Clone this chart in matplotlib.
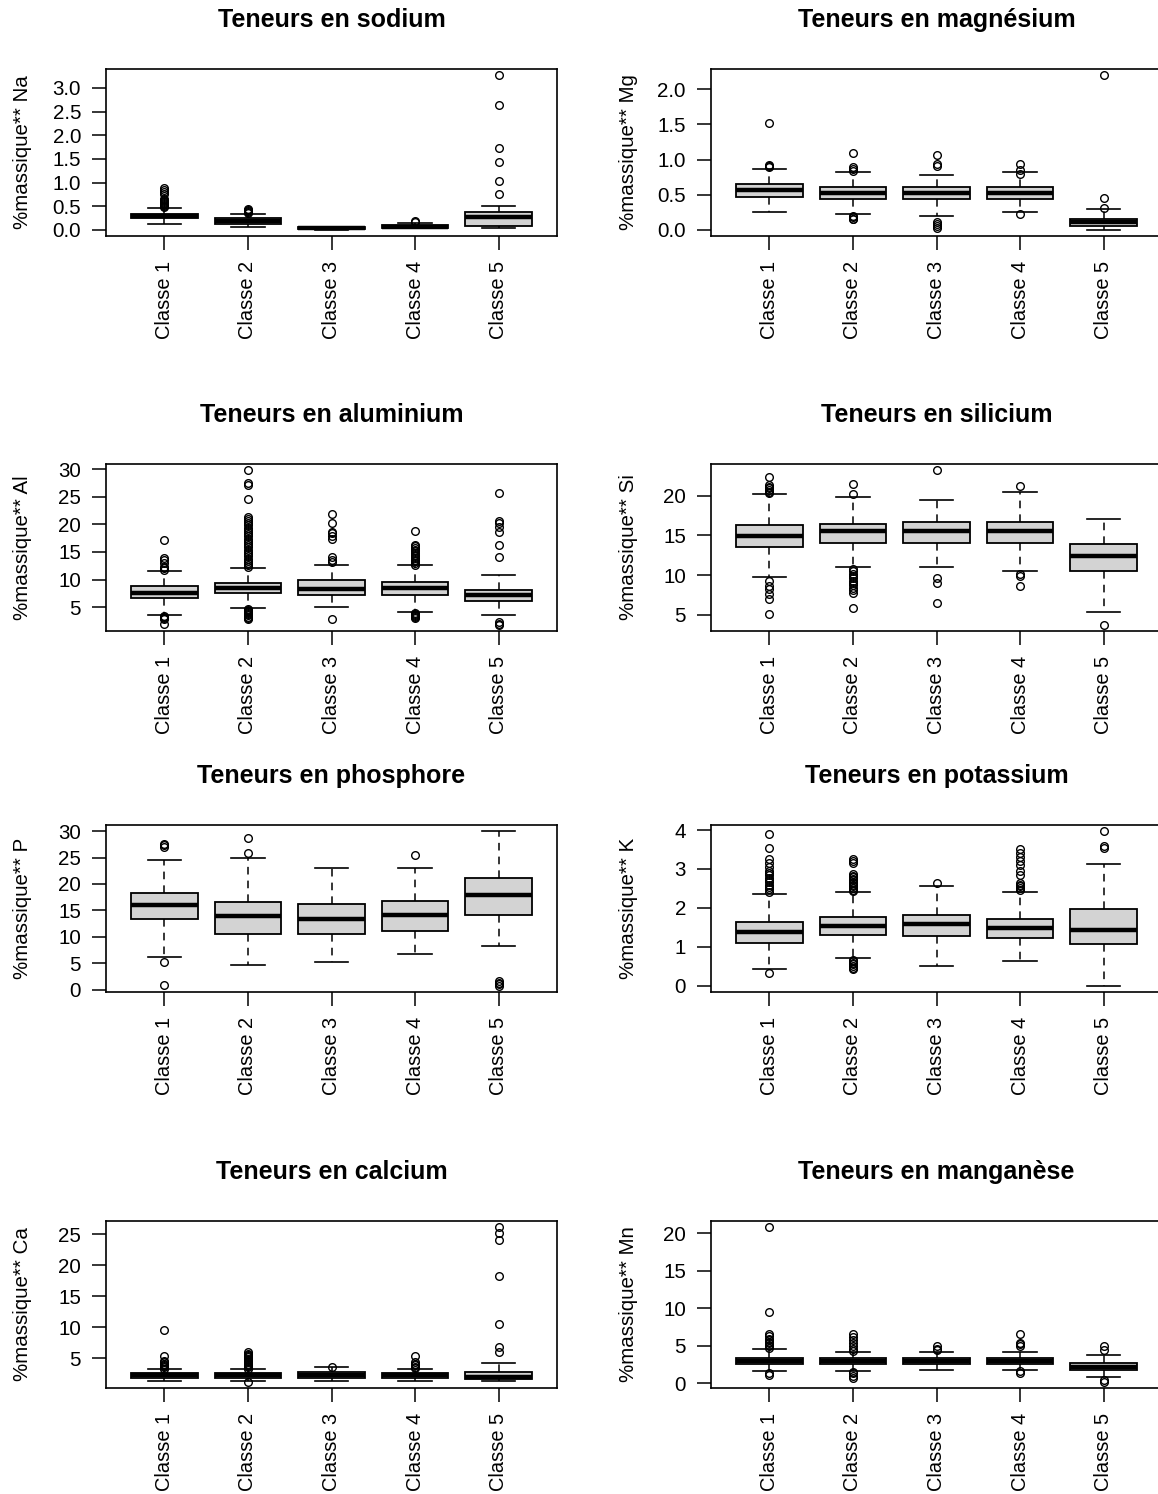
import numpy as np
import matplotlib
matplotlib.use('Agg')
import matplotlib.pyplot as plt

plt.rcParams['font.family'] = ['Liberation Sans', 'DejaVu Sans']

# Class names on the x axis
classes = ['Classe 1', 'Classe 2', 'Classe 3', 'Classe 4', 'Classe 5']

# Box stats per class: [whislo, q1, median, q3, whishi]
na_box = [[0.13, 0.25, 0.30, 0.34, 0.47],
          [0.07, 0.13, 0.19, 0.24, 0.34],
          [0.00, 0.01, 0.03, 0.05, 0.07],
          [0.03, 0.04, 0.07, 0.11, 0.14],
          [0.035, 0.09, 0.27, 0.37, 0.505]]
na_out = [[0.49, 0.51, 0.53, 0.55, 0.57, 0.59, 0.61, 0.63, 0.66, 0.75, 0.80, 0.84, 0.88],
          [0.36, 0.38, 0.40, 0.42, 0.45],
          [],
          [0.17, 0.19],
          [0.76, 1.04, 1.43, 1.74, 2.63, 3.27]]

mg_box = [[0.25, 0.46, 0.56, 0.65, 0.87],
          [0.22, 0.44, 0.53, 0.61, 0.82],
          [0.20, 0.44, 0.52, 0.61, 0.78],
          [0.25, 0.44, 0.53, 0.61, 0.82],
          [0.00, 0.06, 0.11, 0.156, 0.29]]
mg_out = [[0.89, 0.91, 0.92, 1.52],
          [0.15, 0.16, 0.18, 0.20, 0.84, 0.87, 0.90, 1.09],
          [0.02, 0.05, 0.08, 0.11, 0.91, 0.93, 1.07],
          [0.22, 0.80, 0.85, 0.94],
          [0.31, 0.45, 2.20]]

al_box = [[3.62, 6.68, 7.64, 8.78, 11.6],
          [4.8, 7.5, 8.5, 9.3, 12.07],
          [5.0, 7.16, 8.3, 9.86, 12.67],
          [4.16, 7.16, 8.5, 9.6, 12.55],
          [3.62, 6.14, 7.28, 8.18, 10.9]]
al_out = [[1.9, 2.8, 3.0, 3.2, 3.4, 11.8, 12.0, 12.2, 13.0, 13.5, 13.9, 17.1],
          [2.9, 3.1, 3.3, 3.5, 3.7, 3.9, 4.1, 4.3, 4.5, 4.7,
           12.2, 12.6, 13.0, 13.4, 13.8, 14.2, 14.6, 15.0, 15.4, 15.8, 16.2, 16.6,
           17.0, 17.4, 17.8, 18.2, 18.6, 19.0, 19.4, 19.8, 20.2, 20.6, 21.0, 21.4,
           24.5, 27.2, 27.5, 29.8],
          [2.8, 13.1, 13.5, 14.0, 17.3, 17.9, 18.4, 18.6, 20.2, 21.9],
          [3.0, 3.2, 3.4, 3.6, 3.8, 4.0, 12.7, 13.0, 13.3, 13.6, 13.9, 14.2, 14.5,
           14.8, 15.1, 15.4, 15.7, 16.0, 16.3, 18.8],
          [1.8, 2.0, 2.3, 14.0, 16.3, 18.6, 19.6, 20.2, 20.6, 25.6]]

si_box = [[9.79, 13.54, 14.96, 16.25, 20.17],
          [10.96, 14.08, 15.54, 16.46, 19.8],
          [10.96, 14.08, 15.54, 16.67, 19.4],
          [10.46, 14.08, 15.54, 16.67, 20.4],
          [5.33, 10.58, 12.375, 13.96, 17.08]]
si_out = [[5.1, 7.0, 7.6, 8.2, 8.6, 9.2, 20.3, 20.5, 20.7, 20.9, 21.1, 21.3, 22.4],
          [5.9, 7.8, 8.1, 8.4, 8.7, 9.0, 9.3, 9.6, 9.9, 10.2, 10.5, 10.8, 20.2, 21.5],
          [6.5, 9.0, 9.6, 23.2],
          [8.6, 9.9, 10.2, 21.2],
          [3.75]]

p_box = [[6.14, 13.29, 16.0, 18.35, 24.6],
         [4.7, 10.57, 13.9, 16.58, 24.9],
         [5.25, 10.57, 13.3, 16.27, 23.1],
         [6.8, 11.1, 14.2, 16.8, 23.1],
         [8.2, 14.2, 18.0, 21.1, 30.0]]
p_out = [[0.76, 5.3, 27.0, 27.3, 27.6],
         [25.8, 28.8],
         [],
         [25.5],
         [0.7, 1.0, 1.3, 1.6]]

k_box = [[0.43, 1.11, 1.37, 1.64, 2.36],
         [0.72, 1.30, 1.535, 1.77, 2.40],
         [0.51, 1.27, 1.595, 1.81, 2.57],
         [0.64, 1.22, 1.49, 1.72, 2.40],
         [0.00, 1.08, 1.44, 1.96, 3.12]]
k_out = [[0.33, 2.42, 2.48, 2.54, 2.60, 2.66, 2.72, 2.78, 2.84, 2.90, 2.95,
          3.05, 3.15, 3.25, 3.55, 3.89],
         [0.43, 0.47, 0.51, 0.55, 0.59, 0.63, 0.67, 2.43, 2.47, 2.51, 2.55, 2.59,
          2.63, 2.67, 2.71, 2.75, 2.79, 2.83, 2.87, 3.15, 3.20, 3.26],
         [2.64],
         [2.45, 2.50, 2.55, 2.60, 2.65, 2.85, 2.95, 3.10, 3.20, 3.30, 3.40, 3.50],
         [3.55, 3.60, 3.97]]

ca_box = [[1.37, 1.8, 2.2, 2.55, 3.19],
          [1.37, 1.8, 2.2, 2.55, 3.2],
          [1.37, 1.8, 2.3, 2.7, 3.5],
          [1.37, 1.8, 2.2, 2.55, 3.2],
          [1.37, 1.6, 2.0, 2.7, 4.2]]
ca_out = [[3.3, 3.5, 3.7, 3.9, 4.1, 4.3, 4.5, 5.3, 9.5],
          [1.16, 3.3, 3.5, 3.7, 3.9, 4.1, 4.3, 4.5, 4.7, 4.9, 5.1, 5.3, 5.5, 5.7, 5.9],
          [3.6],
          [3.4, 3.6, 3.8, 4.0, 4.3, 5.3],
          [5.9, 6.8, 10.5, 18.3, 24.1, 25.1, 26.1]]

mn_box = [[1.6, 2.62, 3.0, 3.42, 4.53],
          [1.6, 2.62, 3.0, 3.42, 4.13],
          [1.82, 2.62, 3.0, 3.42, 4.13],
          [1.82, 2.62, 3.0, 3.42, 4.13],
          [0.8, 1.78, 2.2, 2.71, 3.73]]
mn_out = [[1.1, 1.4, 4.7, 4.9, 5.1, 5.3, 5.5, 5.7, 5.9, 6.3, 6.6, 9.55, 20.8],
          [0.75, 1.0, 1.3, 1.5, 4.3, 4.6, 5.0, 5.4, 5.8, 6.2, 6.5],
          [4.4, 4.6, 4.9],
          [1.35, 1.6, 5.0, 5.2, 5.4, 6.6],
          [0.18, 0.4, 4.4, 4.98]]

titles = ['Teneurs en sodium', 'Teneurs en magnésium', 'Teneurs en aluminium',
          'Teneurs en silicium', 'Teneurs en phosphore', 'Teneurs en potassium',
          'Teneurs en calcium', 'Teneurs en manganèse']
elements = ['Na', 'Mg', 'Al', 'Si', 'P', 'K', 'Ca', 'Mn']
y_ticks = [[0.0, 0.5, 1.0, 1.5, 2.0, 2.5, 3.0],
           [0.0, 0.5, 1.0, 1.5, 2.0],
           [5, 10, 15, 20, 25, 30],
           [5, 10, 15, 20],
           [0, 5, 10, 15, 20, 25, 30],
           [0, 1, 2, 3, 4],
           [5, 10, 15, 20, 25],
           [0, 5, 10, 15, 20]]
boxes = [na_box, mg_box, al_box, si_box, p_box, k_box, ca_box, mn_box]
outs = [na_out, mg_out, al_out, si_out, p_out, k_out, ca_out, mn_out]


def make_stats(box, out):
    stats = []
    for b, o in zip(box, out):
        stats.append(dict(whislo=b[0], q1=b[1], med=b[2], q3=b[3], whishi=b[4],
                          fliers=np.array(o)))
    return stats


W, H = 1158, 1494
fig = plt.figure(figsize=(W / 100, H / 100), dpi=100)

# pixel positions of the panels (R layout, 4 rows x 2 columns)
col_left = [106, 711]
row_top = [69, 464, 825, 1221]
ax_w, ax_h = 451, 167

for i in range(8):
    r, c = divmod(i, 2)
    ax = fig.add_axes([col_left[c] / W, 1 - (row_top[r] + ax_h) / H, ax_w / W, ax_h / H])
    ax.bxp(make_stats(boxes[i], outs[i]), positions=range(1, 6), widths=0.8,
           capwidths=0.4, patch_artist=True,
           boxprops=dict(facecolor='#D3D3D3', edgecolor='black', linewidth=1.3),
           medianprops=dict(color='black', linewidth=3.2, solid_capstyle='butt'),
           whiskerprops=dict(color='black', linewidth=1.1, linestyle=(0, (5, 4))),
           capprops=dict(color='black', linewidth=1.2),
           flierprops=dict(marker='o', markerfacecolor='none', markeredgecolor='black',
                           markersize=5.5, markeredgewidth=1.0))

    # R style range: data extremes plus 4 %
    vals = [v for b in boxes[i] for v in b] + [v for o in outs[i] for v in o]
    lo, hi = min(vals), max(vals)
    pad = 0.04 * (hi - lo)
    ax.set_ylim(lo - pad, hi + pad)
    ax.set_xlim(0.3, 5.7)

    ax.set_yticks(y_ticks[i])
    if i < 2:
        ax.set_yticklabels(['%.1f' % t for t in y_ticks[i]])
    else:
        ax.set_yticklabels(['%d' % t for t in y_ticks[i]])
    ax.set_xticks(range(1, 6))
    ax.set_xticklabels(classes, rotation=90)
    ax.tick_params(axis='both', direction='out', length=10, width=1.1,
                   colors='black')
    ax.tick_params(axis='y', pad=8, labelsize=14.8)
    ax.tick_params(axis='x', pad=8, labelsize=14.4)
    for s in ax.spines.values():
        s.set_linewidth(1.2)

    ax.text(-83 / ax_w, 0.5, '%massique** ' + elements[i], transform=ax.transAxes,
            rotation=90, ha='center', va='center', fontsize=14.8)
    ax.annotate(titles[i], xy=(0.5, 1), xycoords='axes fraction', xytext=(0, 35),
                textcoords='offset points', ha='center', va='center',
                fontsize=18, fontweight='bold')

fig.savefig('out.png', dpi=100)
